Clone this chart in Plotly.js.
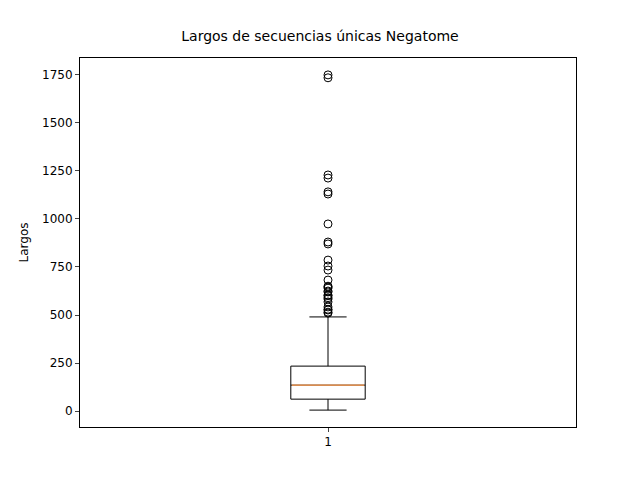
<!DOCTYPE html>
<html>
<head>
<meta charset="utf-8">
<script src="https://cdn.plot.ly/plotly-3.0.1.min.js"></script>
<style>body{margin:0}</style>
</head>
<body>
<div id="chart" style="width:640px;height:480px"></div>
<script>
var q1 = 62, median = 135, q3 = 234, lowerFence = 5, upperFence = 490;
var outliers = [1750, 1735, 1229, 1213, 1141, 1130, 974, 880, 870, 786, 755, 734,
  682, 650, 646, 640, 625, 620, 604, 600, 590, 583, 568, 542, 530, 526, 515, 510];
var boxWidth = 0.15;

var traces = [
  {
    type: 'box', x: [1], q1: [q1], median: [median], q3: [q3],
    lowerfence: [lowerFence], upperfence: [upperFence],
    boxpoints: false, width: boxWidth, whiskerwidth: 0.5,
    line: {color: 'black', width: 1}, fillcolor: 'rgba(0,0,0,0)',
    hoverinfo: 'none'
  },
  {
    type: 'scatter', mode: 'lines',
    x: [1 - boxWidth / 2 + 0.002, 1 + boxWidth / 2 - 0.002], y: [median, median],
    line: {color: '#ff9a4a', width: 1.2}
  },
  {
    type: 'scatter', mode: 'markers',
    x: outliers.map(function () { return 1; }), y: outliers,
    marker: {symbol: 'circle-open', size: 8, color: 'black', line: {width: 1}}
  }
];

var layout = {
  width: 640, height: 480, showlegend: false,
  paper_bgcolor: 'white', plot_bgcolor: 'white',
  margin: {l: 80, r: 64, t: 58, b: 53},
  font: {family: 'DejaVu Sans', size: 12, color: 'black'},
  title: {text: 'Largos de secuencias únicas Negatome', x: 0.5, xanchor: 'center', y: 0.935, font: {size: 14}},
  xaxis: {
    range: [0.5, 1.5], tickvals: [1], ticktext: ['1'], ticks: 'outside', ticklen: 4,
    showgrid: false, zeroline: false, showline: true, mirror: true, linecolor: 'black', linewidth: 1
  },
  yaxis: {
    range: [-83, 1838], tickvals: [0, 250, 500, 750, 1000, 1250, 1500, 1750],
    ticks: 'outside', ticklen: 4, showgrid: false, zeroline: false,
    showline: true, mirror: true, linecolor: 'black', linewidth: 1,
    title: {text: 'Largos', standoff: 10, font: {size: 12}}
  }
};

Plotly.newPlot('chart', traces, layout, {displayModeBar: false, staticPlot: true});
</script>
</body>
</html>
